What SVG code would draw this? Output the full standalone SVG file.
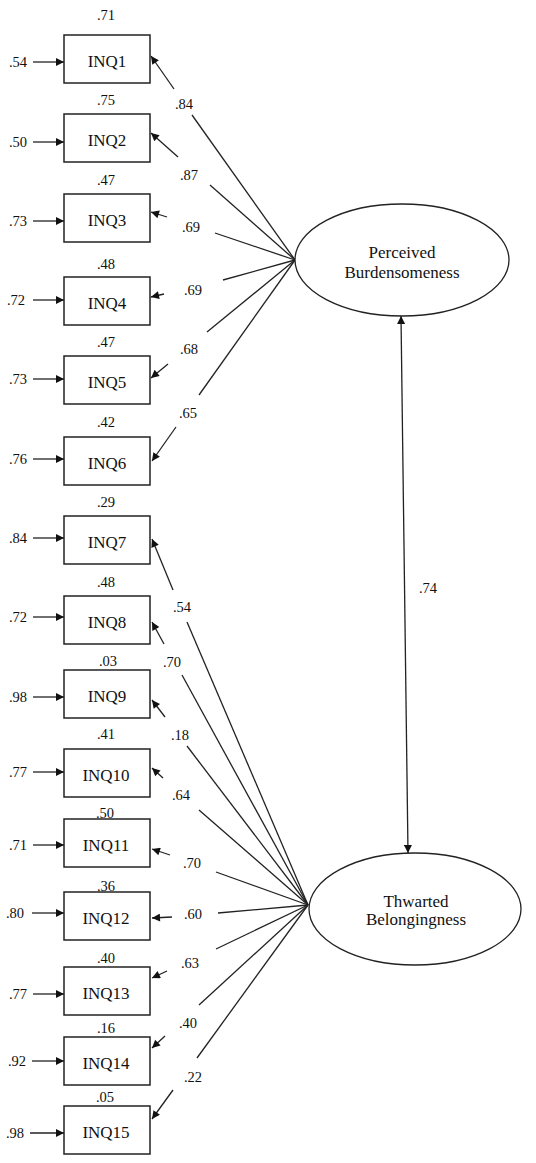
<svg xmlns="http://www.w3.org/2000/svg" width="536" height="1163" viewBox="0 0 536 1163">
<defs>
<style>
.box{fill:#fff;stroke:#222;stroke-width:1.5}
.ell{fill:#fff;stroke:#222;stroke-width:1.3}
.ln{stroke:#222;stroke-width:1.3;fill:none}
.arr{stroke:#222;stroke-width:1.3;fill:none;marker-end:url(#ah)}
.t{font-family:"Liberation Serif","Times New Roman",serif;fill:#111;text-anchor:middle}
.lab{font-size:17px}
.num{font-size:14.5px}
</style>
<marker id="ah" viewBox="0 0 10 10" refX="10" refY="5" markerWidth="11" markerHeight="8" orient="auto-start-reverse" markerUnits="userSpaceOnUse"><path d="M0,0 L10,5 L0,10 z" fill="#111"/></marker>
</defs>
<rect width="536" height="1163" fill="#fff"/>

<g id="connectors">
<!-- error arrows -->
<line class="arr" x1="33" y1="62" x2="64" y2="62"/>
<line class="arr" x1="33" y1="142" x2="64" y2="142"/>
<line class="arr" x1="33" y1="221" x2="64" y2="221"/>
<line class="arr" x1="33" y1="300" x2="64" y2="300"/>
<line class="arr" x1="33" y1="379" x2="64" y2="379"/>
<line class="arr" x1="33" y1="459" x2="64" y2="459"/>
<line class="arr" x1="33" y1="538" x2="64" y2="538"/>
<line class="arr" x1="33" y1="617" x2="64" y2="617"/>
<line class="arr" x1="33" y1="697" x2="64" y2="697"/>
<line class="arr" x1="33" y1="772" x2="64" y2="772"/>
<line class="arr" x1="33" y1="845" x2="64" y2="845"/>
<line class="arr" x1="32" y1="913" x2="64" y2="913"/>
<line class="arr" x1="33" y1="994" x2="64" y2="994"/>
<line class="arr" x1="32" y1="1061" x2="64" y2="1061"/>
<line class="arr" x1="30" y1="1133" x2="64" y2="1133"/>
<!-- PB loadings -->
<line class="arr" x1="174" y1="89" x2="151" y2="56"/>
<line class="ln" x1="192" y1="115" x2="295" y2="260"/>
<line class="arr" x1="178" y1="157" x2="151" y2="133"/>
<line class="ln" x1="210" y1="185" x2="295" y2="260"/>
<line class="arr" x1="167" y1="217" x2="151" y2="212"/>
<line class="ln" x1="215" y1="233" x2="295" y2="260"/>
<line class="arr" x1="164" y1="294" x2="151" y2="297"/>
<line class="ln" x1="223" y1="280" x2="295" y2="260"/>
<line class="arr" x1="168" y1="364" x2="151" y2="378"/>
<line class="ln" x1="207" y1="332" x2="295" y2="260"/>
<line class="arr" x1="176" y1="427" x2="152" y2="461"/>
<line class="ln" x1="199" y1="395" x2="295" y2="260"/>
<!-- TB loadings -->
<line class="arr" x1="173" y1="590" x2="152" y2="539"/>
<line class="ln" x1="187" y1="622" x2="308" y2="905"/>
<line class="arr" x1="164" y1="644" x2="152" y2="622"/>
<line class="ln" x1="182" y1="675" x2="308" y2="905"/>
<line class="arr" x1="165" y1="717" x2="152" y2="700"/>
<line class="ln" x1="187" y1="746" x2="308" y2="905"/>
<line class="arr" x1="163" y1="778" x2="152" y2="768"/>
<line class="ln" x1="199" y1="810" x2="308" y2="905"/>
<line class="arr" x1="170" y1="855" x2="152" y2="849"/>
<line class="ln" x1="216" y1="872" x2="308" y2="905"/>
<line class="arr" x1="172" y1="917" x2="152" y2="918"/>
<line class="ln" x1="218" y1="913" x2="308" y2="905"/>
<line class="arr" x1="167" y1="971" x2="152" y2="978"/>
<line class="ln" x1="216" y1="949" x2="308" y2="905"/>
<line class="arr" x1="165" y1="1036" x2="152" y2="1048"/>
<line class="ln" x1="199" y1="1005" x2="308" y2="905"/>
<line class="arr" x1="173" y1="1090" x2="152" y2="1119"/>
<line class="ln" x1="197" y1="1058" x2="308" y2="905"/>
<!-- correlation -->
<line class="arr" x1="401" y1="316" x2="408" y2="853" style="marker-start:url(#ah)"/>
</g>

<g id="labels" class="t num">
<text x="18" y="67">.54</text>
<text x="18" y="147">.50</text>
<text x="18" y="226">.73</text>
<text x="16" y="305">.72</text>
<text x="18" y="384">.73</text>
<text x="18" y="464">.76</text>
<text x="18" y="543">.84</text>
<text x="18" y="622">.72</text>
<text x="18" y="702">.98</text>
<text x="18" y="777">.77</text>
<text x="18" y="850">.71</text>
<text x="15" y="918">.80</text>
<text x="18" y="999">.77</text>
<text x="17" y="1066">.92</text>
<text x="15" y="1138">.98</text>

<text x="106" y="20">.71</text>
<text x="106" y="105">.75</text>
<text x="106" y="185">.47</text>
<text x="106" y="269">.48</text>
<text x="106" y="347">.47</text>
<text x="106" y="427">.42</text>
<text x="106" y="507">.29</text>
<text x="106" y="587">.48</text>
<text x="108" y="666">.03</text>
<text x="106" y="739">.41</text>
<text x="105" y="818">.50</text>
<text x="106" y="891">.36</text>
<text x="106" y="963">.40</text>
<text x="106" y="1033">.16</text>
<text x="105" y="1102">.05</text>

<text x="184" y="109">.84</text>
<text x="189" y="180">.87</text>
<text x="191" y="232">.69</text>
<text x="193" y="295">.69</text>
<text x="189" y="354">.68</text>
<text x="188" y="418">.65</text>
<text x="182" y="612">.54</text>
<text x="172" y="667">.70</text>
<text x="180" y="740">.18</text>
<text x="181" y="800">.64</text>
<text x="192" y="868">.70</text>
<text x="193" y="919">.60</text>
<text x="190" y="968">.63</text>
<text x="188" y="1028">.40</text>
<text x="193" y="1082">.22</text>
<text x="428" y="593">.74</text>
</g>

<g id="INQ1"><rect class="box" x="64" y="35" width="86" height="48"/><text class="t lab" x="107" y="67">INQ1</text></g>
<g id="INQ2"><rect class="box" x="64" y="114" width="86" height="48"/><text class="t lab" x="107" y="146">INQ2</text></g>
<g id="INQ3"><rect class="box" x="64" y="194" width="86" height="48"/><text class="t lab" x="107" y="226">INQ3</text></g>
<g id="INQ4"><rect class="box" x="64" y="277" width="86" height="48"/><text class="t lab" x="107" y="309">INQ4</text></g>
<g id="INQ5"><rect class="box" x="64" y="356" width="86" height="48"/><text class="t lab" x="107" y="388">INQ5</text></g>
<g id="INQ6"><rect class="box" x="64" y="437" width="86" height="48"/><text class="t lab" x="107" y="469">INQ6</text></g>
<g id="INQ7"><rect class="box" x="64" y="516" width="86" height="48"/><text class="t lab" x="107" y="548">INQ7</text></g>
<g id="INQ8"><rect class="box" x="64" y="596" width="86" height="48"/><text class="t lab" x="107" y="628">INQ8</text></g>
<g id="INQ9"><rect class="box" x="64" y="670" width="86" height="48"/><text class="t lab" x="107" y="702">INQ9</text></g>
<g id="INQ10"><rect class="box" x="64" y="749" width="86" height="48"/><text class="t lab" x="106" y="781">INQ10</text></g>
<g id="INQ11"><rect class="box" x="64" y="819" width="86" height="48"/><text class="t lab" x="106" y="851">INQ11</text></g>
<g id="INQ12"><rect class="box" x="64" y="892" width="86" height="48"/><text class="t lab" x="106" y="924">INQ12</text></g>
<g id="INQ13"><rect class="box" x="64" y="967" width="86" height="48"/><text class="t lab" x="106" y="999">INQ13</text></g>
<g id="INQ14"><rect class="box" x="64" y="1037" width="86" height="48"/><text class="t lab" x="106" y="1069">INQ14</text></g>
<g id="INQ15"><rect class="box" x="64" y="1106" width="86" height="48"/><text class="t lab" x="106" y="1138">INQ15</text></g>

<g id="PB"><ellipse class="ell" cx="402" cy="260" rx="107" ry="56"/><text class="t lab" x="402" y="258">Perceived</text><text class="t lab" x="402" y="278">Burdensomeness</text></g>
<g id="TB"><ellipse class="ell" cx="415" cy="909" rx="106" ry="56"/><text class="t lab" x="416" y="907">Thwarted</text><text class="t lab" x="416" y="925">Belongingness</text></g>
</svg>
